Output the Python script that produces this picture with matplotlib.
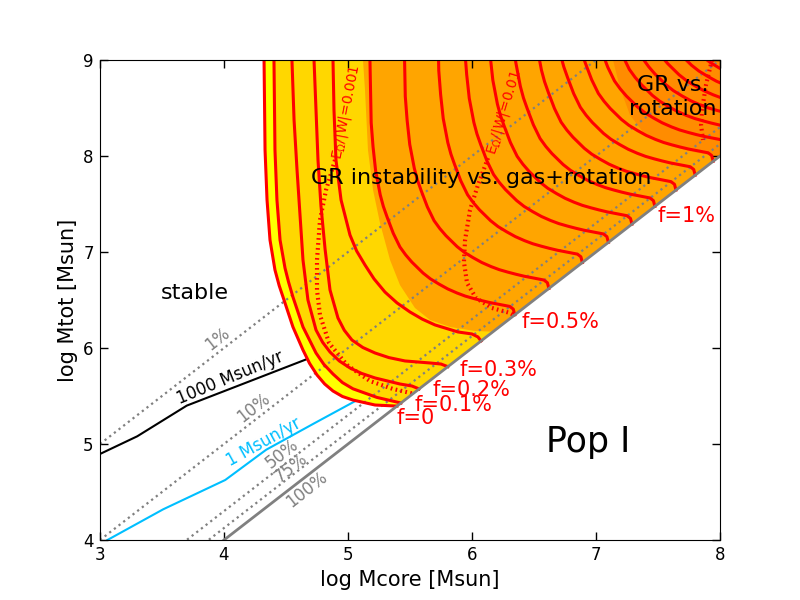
import numpy as np
import matplotlib
matplotlib.use("Agg")
import matplotlib.pyplot as plt

plt.rcParams['font.family'] = ['DejaVu Sans']

# ---------------- data ----------------
# constant core-mass fraction lines Mcore/Mtot (percent)
frac_pct = [1, 10, 50, 75, 100]
frac_text = ['1%', '10%', '50%', '75%', '100%']
frac_text_x = [3.95, 4.24, 4.47, 4.54, 4.67]
frac_text_y = [6.09, 5.375, 4.90, 4.75, 4.53]

# accretion-rate tracks
acc1000_mcore = [3.0, 3.30, 3.70, 4.72]
acc1000_mtot = [4.896, 5.08, 5.40, 5.91]
acc1_mcore = [3.06, 3.51, 4.01, 4.34, 4.72, 5.12]
acc1_mtot = [4.0, 4.32, 4.625, 4.94, 5.21, 5.49]

# instability curves for f = 0, 0.1%, ... 1.9%
f_values = [0.0, 0.1, 0.2, 0.3, 0.4, 0.5, 0.6, 0.7, 0.8, 0.9,
            1.0, 1.1, 1.2, 1.3, 1.4, 1.5, 1.6, 1.7, 1.8, 1.9]
f_mcore = [
    [4.323, 4.331, 4.347, 4.371, 4.411, 4.445, 4.484, 4.556, 4.637, 4.690, 4.750, 4.812, 4.879, 4.955, 5.040, 5.218, 5.395],
    [4.403, 4.411, 4.427, 4.452, 4.492, 4.520, 4.556, 4.637, 4.742, 4.805, 4.879, 4.955, 5.040, 5.234, 5.427],
    [4.548, 4.565, 4.589, 4.613, 4.637, 4.677, 4.742, 4.795, 4.855, 4.930, 5.016, 5.110, 5.218, 5.419, 5.516, 5.556, 5.573],
    [4.726, 4.742, 4.758, 4.782, 4.815, 4.855, 4.919, 4.970, 5.032, 5.120, 5.218, 5.330, 5.460, 5.661, 5.750, 5.790, 5.806],
    [4.879, 4.887, 4.903, 4.944, 5.016, 5.070, 5.137, 5.210, 5.298, 5.395, 5.500, 5.600, 5.702, 5.887, 6.000, 6.048, 6.073],
    [5.177, 5.187, 5.202, 5.223, 5.26, 5.285, 5.315, 5.365, 5.419, 5.465, 5.515, 5.605, 5.665, 5.735, 5.805, 5.879, 5.945, 6.015, 6.08, 6.145, 6.245, 6.305, 6.333, 6.345],
    [5.452, 5.462, 5.477, 5.498, 5.535, 5.56, 5.59, 5.64, 5.694, 5.74, 5.79, 5.88, 5.94, 6.01, 6.08, 6.154, 6.22, 6.29, 6.355, 6.42, 6.52, 6.58, 6.608, 6.62],
    [5.722, 5.732, 5.747, 5.768, 5.805, 5.83, 5.86, 5.91, 5.964, 6.01, 6.06, 6.15, 6.21, 6.28, 6.35, 6.424, 6.49, 6.56, 6.625, 6.69, 6.79, 6.85, 6.878, 6.89],
    [5.932, 5.942, 5.957, 5.978, 6.015, 6.04, 6.07, 6.12, 6.174, 6.22, 6.27, 6.36, 6.42, 6.49, 6.56, 6.634, 6.70, 6.77, 6.835, 6.9, 7.0, 7.06, 7.088, 7.1],
    [6.122, 6.132, 6.147, 6.168, 6.205, 6.23, 6.26, 6.31, 6.364, 6.41, 6.46, 6.55, 6.61, 6.68, 6.75, 6.824, 6.89, 6.96, 7.025, 7.09, 7.19, 7.25, 7.278, 7.29],
    [6.307, 6.317, 6.332, 6.353, 6.39, 6.415, 6.445, 6.495, 6.549, 6.595, 6.645, 6.735, 6.795, 6.865, 6.935, 7.009, 7.075, 7.145, 7.21, 7.275, 7.375, 7.435, 7.463, 7.475],
    [6.477, 6.487, 6.502, 6.523, 6.56, 6.585, 6.615, 6.665, 6.719, 6.765, 6.815, 6.905, 6.965, 7.035, 7.105, 7.179, 7.245, 7.315, 7.38, 7.445, 7.545, 7.605, 7.633, 7.645],
    [6.632, 6.642, 6.657, 6.678, 6.715, 6.74, 6.77, 6.82, 6.874, 6.92, 6.97, 7.06, 7.12, 7.19, 7.26, 7.334, 7.40, 7.47, 7.535, 7.6, 7.7, 7.76, 7.788, 7.8],
    [6.777, 6.787, 6.802, 6.823, 6.86, 6.885, 6.915, 6.965, 7.019, 7.065, 7.115, 7.205, 7.265, 7.335, 7.405, 7.479, 7.545, 7.615, 7.68, 7.745, 7.845, 7.905, 7.933, 7.945],
    [6.907, 6.917, 6.932, 6.953, 6.99, 7.015, 7.045, 7.095, 7.149, 7.195, 7.245, 7.335, 7.395, 7.465, 7.535, 7.609, 7.675, 7.745, 7.81, 7.875, 7.975, 8.035, 8.063, 8.075],
    [7.027, 7.037, 7.052, 7.073, 7.11, 7.135, 7.165, 7.215, 7.269, 7.315, 7.365, 7.455, 7.515, 7.585, 7.655, 7.729, 7.795, 7.865, 7.93, 7.995, 8.095, 8.155, 8.183, 8.195],
    [7.137, 7.147, 7.162, 7.183, 7.22, 7.245, 7.275, 7.325, 7.379, 7.425, 7.475, 7.565, 7.625, 7.695, 7.765, 7.839, 7.905, 7.975, 8.04, 8.105, 8.205, 8.265, 8.293, 8.305],
    [7.242, 7.252, 7.267, 7.288, 7.325, 7.35, 7.38, 7.43, 7.484, 7.53, 7.58, 7.67, 7.73, 7.8, 7.87, 7.944, 8.01, 8.08, 8.145, 8.21, 8.31, 8.37, 8.398, 8.41],
    [7.342, 7.352, 7.367, 7.388, 7.425, 7.45, 7.48, 7.53, 7.584, 7.63, 7.68, 7.77, 7.83, 7.9, 7.97, 8.044, 8.11, 8.18, 8.245, 8.31, 8.41, 8.47, 8.498, 8.51],
    [7.432, 7.442, 7.457, 7.478, 7.515, 7.54, 7.57, 7.62, 7.674, 7.72, 7.77, 7.86, 7.92, 7.99, 8.06, 8.134, 8.2, 8.27, 8.335, 8.4, 8.5, 8.56, 8.588, 8.6],
]
f_mtot = [
    [9.0, 8.063, 7.542, 7.125, 6.813, 6.650, 6.5, 6.219, 5.979, 5.840, 5.719, 5.625, 5.552, 5.495, 5.458, 5.406, 5.395],
    [9.0, 8.063, 7.542, 7.125, 6.833, 6.690, 6.531, 6.219, 5.948, 5.830, 5.729, 5.640, 5.575, 5.485, 5.427],
    [9.0, 8.375, 7.854, 7.385, 6.917, 6.5, 6.188, 6.060, 5.958, 5.865, 5.792, 5.735, 5.688, 5.625, 5.604, 5.583, 5.573],
    [9.0, 8.479, 7.958, 7.479, 7.031, 6.604, 6.313, 6.185, 6.083, 6.005, 5.948, 5.900, 5.865, 5.844, 5.833, 5.813, 5.806],
    [9.0, 8.479, 7.958, 7.542, 7.177, 7.010, 6.865, 6.720, 6.583, 6.470, 6.375, 6.300, 6.240, 6.167, 6.146, 6.115, 6.073],
    [9.0, 8.345, 8.095, 7.845, 7.595, 7.475, 7.365, 7.195, 7.052, 6.97, 6.895, 6.781, 6.72, 6.665, 6.615, 6.573, 6.541, 6.515, 6.493, 6.473, 6.448, 6.433, 6.405, 6.345],
    [9.275, 8.62, 8.37, 8.12, 7.87, 7.75, 7.64, 7.47, 7.327, 7.245, 7.17, 7.056, 6.995, 6.94, 6.89, 6.848, 6.816, 6.79, 6.768, 6.748, 6.723, 6.708, 6.68, 6.62],
    [9.545, 8.89, 8.64, 8.39, 8.14, 8.02, 7.91, 7.74, 7.597, 7.515, 7.44, 7.326, 7.265, 7.21, 7.16, 7.118, 7.086, 7.06, 7.038, 7.018, 6.993, 6.978, 6.95, 6.89],
    [9.755, 9.1, 8.85, 8.6, 8.35, 8.23, 8.12, 7.95, 7.807, 7.725, 7.65, 7.536, 7.475, 7.42, 7.37, 7.328, 7.296, 7.27, 7.248, 7.228, 7.203, 7.188, 7.16, 7.1],
    [9.945, 9.29, 9.04, 8.79, 8.54, 8.42, 8.31, 8.14, 7.997, 7.915, 7.84, 7.726, 7.665, 7.61, 7.56, 7.518, 7.486, 7.46, 7.438, 7.418, 7.393, 7.378, 7.35, 7.29],
    [10.13, 9.475, 9.225, 8.975, 8.725, 8.605, 8.495, 8.325, 8.182, 8.1, 8.025, 7.911, 7.85, 7.795, 7.745, 7.703, 7.671, 7.645, 7.623, 7.603, 7.578, 7.563, 7.535, 7.475],
    [10.3, 9.645, 9.395, 9.145, 8.895, 8.775, 8.665, 8.495, 8.352, 8.27, 8.195, 8.081, 8.02, 7.965, 7.915, 7.873, 7.841, 7.815, 7.793, 7.773, 7.748, 7.733, 7.705, 7.645],
    [10.455, 9.8, 9.55, 9.3, 9.05, 8.93, 8.82, 8.65, 8.507, 8.425, 8.35, 8.236, 8.175, 8.12, 8.07, 8.028, 7.996, 7.97, 7.948, 7.928, 7.903, 7.888, 7.86, 7.8],
    [10.6, 9.945, 9.695, 9.445, 9.195, 9.075, 8.965, 8.795, 8.652, 8.57, 8.495, 8.381, 8.32, 8.265, 8.215, 8.173, 8.141, 8.115, 8.093, 8.073, 8.048, 8.033, 8.005, 7.945],
    [10.73, 10.075, 9.825, 9.575, 9.325, 9.205, 9.095, 8.925, 8.782, 8.7, 8.625, 8.511, 8.45, 8.395, 8.345, 8.303, 8.271, 8.245, 8.223, 8.203, 8.178, 8.163, 8.135, 8.075],
    [10.85, 10.195, 9.945, 9.695, 9.445, 9.325, 9.215, 9.045, 8.902, 8.82, 8.745, 8.631, 8.57, 8.515, 8.465, 8.423, 8.391, 8.365, 8.343, 8.323, 8.298, 8.283, 8.255, 8.195],
    [10.96, 10.305, 10.055, 9.805, 9.555, 9.435, 9.325, 9.155, 9.012, 8.93, 8.855, 8.741, 8.68, 8.625, 8.575, 8.533, 8.501, 8.475, 8.453, 8.433, 8.408, 8.393, 8.365, 8.305],
    [11.065, 10.41, 10.16, 9.91, 9.66, 9.54, 9.43, 9.26, 9.117, 9.035, 8.96, 8.846, 8.785, 8.73, 8.68, 8.638, 8.606, 8.58, 8.558, 8.538, 8.513, 8.498, 8.47, 8.41],
    [11.165, 10.51, 10.26, 10.01, 9.76, 9.64, 9.53, 9.36, 9.217, 9.135, 9.06, 8.946, 8.885, 8.83, 8.78, 8.738, 8.706, 8.68, 8.658, 8.638, 8.613, 8.598, 8.57, 8.51],
    [11.255, 10.6, 10.35, 10.1, 9.85, 9.73, 9.62, 9.45, 9.307, 9.225, 9.15, 9.036, 8.975, 8.92, 8.87, 8.828, 8.796, 8.77, 8.748, 8.728, 8.703, 8.688, 8.66, 8.6],
]
f_label_text = ['f=0', 'f=0.1%', 'f=0.2%', 'f=0.3%', 'f=0.5%', 'f=1%']
f_label_x = [5.395, 5.54, 5.685, 5.90, 6.40, 7.50]
f_label_y = [5.27, 5.405, 5.56, 5.77, 6.27, 7.375]

# region boundaries
orange_mcore = [5.121, 5.137, 5.161, 5.202, 5.258, 5.339, 5.419, 5.540, 5.661, 5.823, 6.024, 6.17]
orange_mtot = [9.0, 8.6875, 8.0625, 7.646, 7.302, 6.917, 6.656, 6.417, 6.292, 6.219, 6.177, 6.17]
darkorange_mcore = [7.137, 7.194, 7.274, 7.379, 7.573, 7.782, 7.99]
darkorange_mtot = [9.0, 8.708, 8.427, 8.25, 8.115, 8.042, 7.99]

# rotational-energy contours E_Omega/|W|
e001_mcore = [4.895, 4.823, 4.774, 4.750, 4.750, 4.774, 4.847, 4.992, 5.177, 5.363, 5.525]
e001_mtot = [7.958, 7.646, 7.333, 6.917, 6.604, 6.344, 6.052, 5.823, 5.656, 5.573, 5.525]
e01_mcore = [6.129, 6.048, 5.984, 5.944, 5.935, 5.960, 6.032, 6.161, 6.306, 6.34]
e01_mtot = [7.979, 7.698, 7.4375, 7.125, 6.896, 6.677, 6.521, 6.417, 6.365, 6.34]
e1_mcore = [7.935, 7.887, 7.855, 7.847, 7.863]
e1_mtot = [9.0, 8.74, 8.479, 8.323, 8.167]

# ---------------- figure ----------------
fig = plt.figure(figsize=(8, 6), dpi=100)
ax = fig.add_axes([0.125, 0.1, 0.775, 0.8])
ax.set_xlim(3, 8)
ax.set_ylim(4, 9)

# accretion tracks (below the coloured region)
ax.plot(acc1000_mcore, acc1000_mtot, color='black', lw=1.5, zorder=0.5)
ax.plot(acc1_mcore, acc1_mtot, color='#00BFFF', lw=1.5, zorder=0.5)

# filled regions
ax.fill(f_mcore[0] + [8.0, 8.0], f_mtot[0] + [8.0, 9.0], color='#FFD700', lw=0, zorder=1)
ax.fill(f_mcore[0] + f_mcore[1][::-1], f_mtot[0] + f_mtot[1][::-1],
        color='#FFFF00', lw=0, zorder=1.1)
ax.fill(orange_mcore + [8.0, 8.0], orange_mtot + [8.0, 9.0], color='#FFA500', lw=0, zorder=1.2)
ax.fill(darkorange_mcore + [8.0, 8.0], darkorange_mtot + [8.0, 9.0],
        color='#FF8C00', lw=0, zorder=1.3)

# constant-fraction lines
xs = np.array([3.0, 8.0])
for p in frac_pct:
    off = -np.log10(p / 100.0)
    if p == 100:
        ax.plot(xs, xs + off, color='gray', lw=2, zorder=5)
    else:
        ax.plot(xs, xs + off, color='gray', ls=':', lw=1.6, zorder=3)
for t, x, y in zip(frac_text, frac_text_x, frac_text_y):
    ax.text(x, y, t, color='gray', fontsize=12, rotation=38, ha='center', va='center',
            rotation_mode='anchor', zorder=6)

# instability curves
for xc, yc in zip(f_mcore, f_mtot):
    ax.plot(xc, yc, color='red', lw=2.2, zorder=4, solid_joinstyle='round')
for t, x, y in zip(f_label_text, f_label_x, f_label_y):
    ax.text(x, y, t, color='red', fontsize=15, ha='left', va='center', zorder=6)

# E_Omega/|W| contours
dot = (0, (0.4, 0.8))
for xc, yc in [(e001_mcore, e001_mtot), (e01_mcore, e01_mtot), (e1_mcore, e1_mtot)]:
    ax.plot(xc, yc, color='red', lw=3, ls=dot, zorder=4)
ax.text(4.989, 8.461, r'E$_\Omega$/|W|=0.001', color='red', fontsize=10, rotation=79,
        ha='center', va='center', rotation_mode='anchor', zorder=6)
ax.text(6.258, 8.458, r'E$_\Omega$/|W|=0.01', color='red', fontsize=10, rotation=73,
        ha='center', va='center', rotation_mode='anchor', zorder=6)

# annotations
ax.text(4.048, 5.6875, '1000 Msun/yr', color='black', fontsize=12, rotation=22.6,
        ha='center', va='center', rotation_mode='anchor', zorder=6)
ax.text(4.323, 5.02, '1 Msun/yr', color='#00BFFF', fontsize=12, rotation=29,
        ha='center', va='center', rotation_mode='anchor', zorder=6)
ax.text(3.766, 6.573, 'stable', fontsize=16, ha='center', va='center', zorder=6)
ax.text(6.073, 7.771, 'GR instability vs. gas+rotation', fontsize=16,
        ha='center', va='center', zorder=6)
ax.text(7.62, 8.615, 'GR vs.\nrotation', fontsize=16, ha='center', va='center',
        multialignment='center', zorder=6)
ax.text(6.935, 5.02, 'Pop I', fontsize=25, ha='center', va='center', zorder=6)

ax.set_xticks([3, 4, 5, 6, 7, 8])
ax.set_yticks([4, 5, 6, 7, 8, 9])
ax.tick_params(direction='in', top=True, right=True, length=6, width=1,
               labelsize=12, pad=4.5)
ax.set_xlabel('log Mcore [Msun]', fontsize=15)
ax.set_ylabel('log Mtot [Msun]', fontsize=15)
for s in ax.spines.values():
    s.set_zorder(10)

fig.savefig('out.png', dpi=100, facecolor='white')
